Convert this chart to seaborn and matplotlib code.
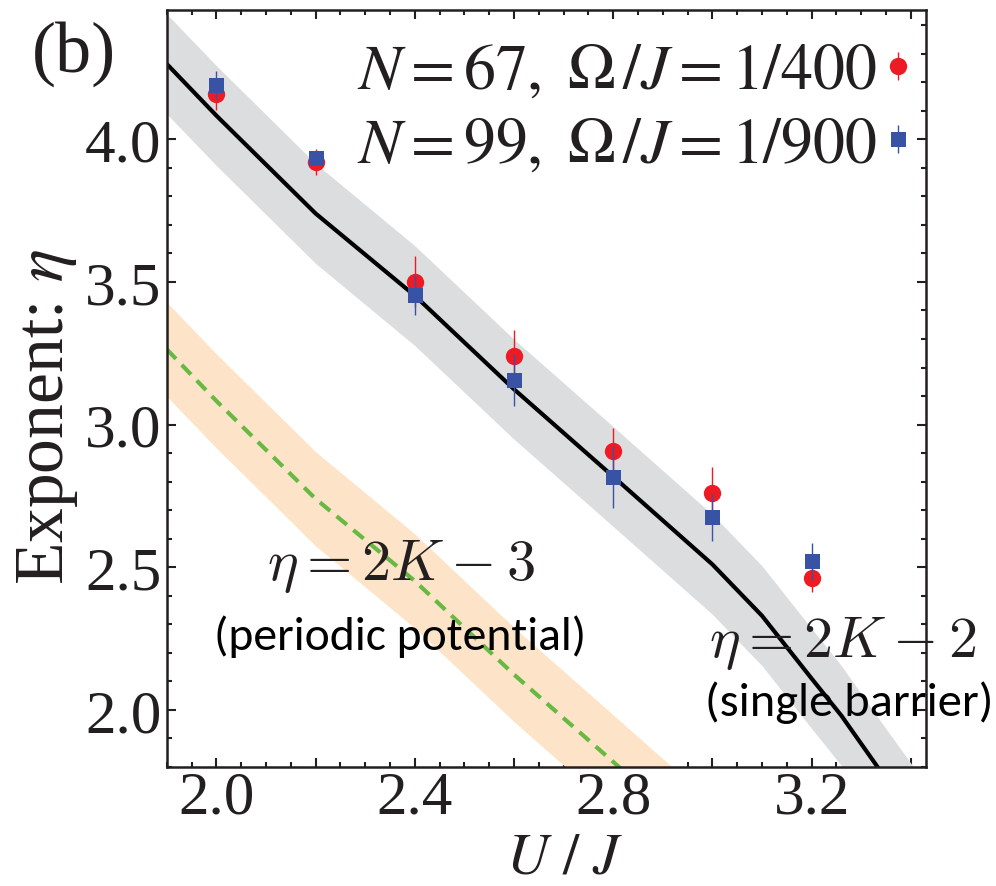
import numpy as np
import pandas as pd
import matplotlib
matplotlib.use("Agg")
import matplotlib.pyplot as plt
import seaborn as sns
from matplotlib import font_manager as fm
from matplotlib.ticker import MultipleLocator, FuncFormatter
from matplotlib.legend_handler import HandlerErrorbar
from matplotlib.container import ErrorbarContainer

# ---------------- data ----------------
u_points = [2.0, 2.2, 2.4, 2.6, 2.8, 3.0, 3.2]
eta_n67 = [4.157, 3.920, 3.501, 3.240, 2.908, 2.761, 2.464]
err_n67 = [0.055, 0.047, 0.090, 0.093, 0.080, 0.090, 0.050]
eta_n99 = [4.190, 3.934, 3.455, 3.156, 2.816, 2.675, 2.521]
err_n99 = [0.050, 0.025, 0.070, 0.090, 0.108, 0.083, 0.065]

u_curve = [1.9, 2.0, 2.2, 2.4, 2.6, 2.8, 3.0, 3.1, 3.2, 3.26, 3.333, 3.42]
eta_single = [4.264, 4.083, 3.740, 3.452, 3.124, 2.818, 2.510, 2.330, 2.110, 1.980, 1.800, 1.590]
single_hi = [4.439, 4.258, 3.915, 3.627, 3.299, 2.993, 2.685, 2.505, 2.285, 2.155, 1.975, 1.765]
single_lo = [4.089, 3.908, 3.565, 3.277, 2.949, 2.643, 2.335, 2.155, 1.935, 1.805, 1.625, 1.415]

eta_periodic = [3.264, 3.083, 2.740, 2.452, 2.124, 1.818, 1.510, 1.330, 1.110, 0.980, 0.800, 0.590]
periodic_hi = [3.429, 3.248, 2.905, 2.617, 2.289, 1.983, 1.675, 1.495, 1.275, 1.145, 0.965, 0.755]
periodic_lo = [3.099, 2.918, 2.575, 2.287, 1.959, 1.653, 1.345, 1.165, 0.945, 0.815, 0.635, 0.425]

label_n67 = r"$N = 67,\ \Omega\,/J = 1/400$"
label_n99 = r"$N = 99,\ \Omega\,/J = 1/900$"

# ---------------- style ----------------
sns.set_theme(style="ticks")
SERIF = ["Liberation Serif", "DejaVu Serif"]
plt.rcParams["font.family"] = SERIF
plt.rcParams["mathtext.fontset"] = "stix"
plt.rcParams["axes.linewidth"] = 1.8

available = set(f.name for f in fm.fontManager.ttflist)
if "Carlito" in available:
    SANS = ["Carlito", "DejaVu Sans"]
    sans_scale = 1.045
else:
    SANS = ["Lato", "DejaVu Sans"]
    sans_scale = 1.0

RED = "#ed1c24"
BLUE = "#3953a4"
GRAY_BAND = "#dcdddf"
ORANGE_BAND = "#fde4c8"
GREEN = "#68b944"
INK = "#231f20"

fig = plt.figure(figsize=(9.96, 8.87), dpi=100)
ax = fig.add_axes([0.1674, 0.1342, 0.762, 0.8534])

df_curve = pd.DataFrame({"u": u_curve, "single": eta_single, "periodic": eta_periodic})

# bands
ax.fill_between(u_curve, single_lo, single_hi, color=GRAY_BAND, lw=0, zorder=1)
ax.fill_between(u_curve, periodic_lo, periodic_hi, color=ORANGE_BAND, lw=0, zorder=1)

# theory lines
sns.lineplot(data=df_curve, x="u", y="single", ax=ax, color="black", lw=3.0,
             zorder=2, sort=False, estimator=None)
sns.lineplot(data=df_curve, x="u", y="periodic", ax=ax, color=GREEN, lw=3.0,
             zorder=2, sort=False, estimator=None)
ax.lines[-1].set_dashes((3.2, 2))
ax.lines[-1].set_dash_capstyle("butt")

# data points
e1 = ax.errorbar(u_points, eta_n67, yerr=err_n67, fmt="o", color=RED, ms=12.5,
                 mew=0, elinewidth=1.0, capsize=2.9, capthick=1.0, zorder=4,
                 label=label_n67)
e2 = ax.errorbar(u_points, eta_n99, yerr=err_n99, fmt="s", color=BLUE, ms=10.8,
                 mew=0, elinewidth=1.0, capsize=2.9, capthick=1.0, zorder=5,
                 label=label_n99)

ax.set_xlim(1.9, 3.43)
ax.set_ylim(1.8, 4.453)

# ticks
ax.xaxis.set_major_locator(MultipleLocator(0.2))
ax.xaxis.set_minor_locator(MultipleLocator(0.05))
ax.xaxis.set_major_formatter(FuncFormatter(
    lambda v, p: f"{v:.1f}" if abs(round(v / 0.4) * 0.4 - v) < 1e-6 else ""))
ax.yaxis.set_major_locator(MultipleLocator(0.5))
ax.yaxis.set_minor_locator(MultipleLocator(0.1))
ax.yaxis.set_major_formatter(FuncFormatter(lambda v, p: f"{v:.1f}"))
ax.tick_params(which="both", direction="in", top=True, right=True, width=1.5,
               color=INK, labelsize=44, labelcolor=INK,
               labelfontfamily="Liberation Serif")
ax.tick_params(which="major", length=6.7)
ax.tick_params(which="minor", length=3.6)
ax.tick_params(axis="y", pad=3.6)
ax.tick_params(axis="x", pad=2)
for s in ax.spines.values():
    s.set_color(INK)
    s.set_zorder(6)

ax.set_ylabel(r"Exponent: $\eta$", fontsize=50, color=INK, family=SERIF)
ax.yaxis.set_label_coords(-0.1142, 0.4637)
ax.set_xlabel(r"$U\ /\ J$", fontsize=42, color=INK)
ax.xaxis.set_label_coords(0.5248, -0.087)

# legend
leg = ax.legend(handles=[e1, e2], labels=[label_n67, label_n99], loc="upper right",
                bbox_to_anchor=(0.974, 0.956), frameon=False, fontsize=46,
                markerfirst=False, handlelength=0.25, handletextpad=0.2,
                borderpad=0, borderaxespad=0, labelspacing=0.23, numpoints=1,
                handler_map={ErrorbarContainer: HandlerErrorbar(yerr_size=0.22)})
for t in leg.get_texts():
    t.set_color(INK)

# annotations
ax.text(2.373, 2.459, r"$\eta = 2K - 3$", fontsize=42, math_fontfamily="cm",
        ha="center", va="baseline", color=INK, zorder=7)
ax.text(2.370, 2.214, "(periodic potential)", fontsize=32.8 * sans_scale, family=SANS,
        ha="center", va="baseline", color="black", zorder=7)
ax.text(3.262, 2.190, r"$\eta = 2K - 2$", fontsize=42, math_fontfamily="cm",
        ha="center", va="baseline", color=INK, zorder=7, clip_on=False)
ax.text(3.275, 1.982, "(single barrier)", fontsize=33.4 * sans_scale, family=SANS,
        ha="center", va="baseline", color="black", zorder=7, clip_on=False)

fig.text(74 / 996, 1 - 72 / 887, "(b)", fontsize=52, ha="center", va="baseline",
         color=INK, family=SERIF)

fig.savefig("out.png", dpi=100)
